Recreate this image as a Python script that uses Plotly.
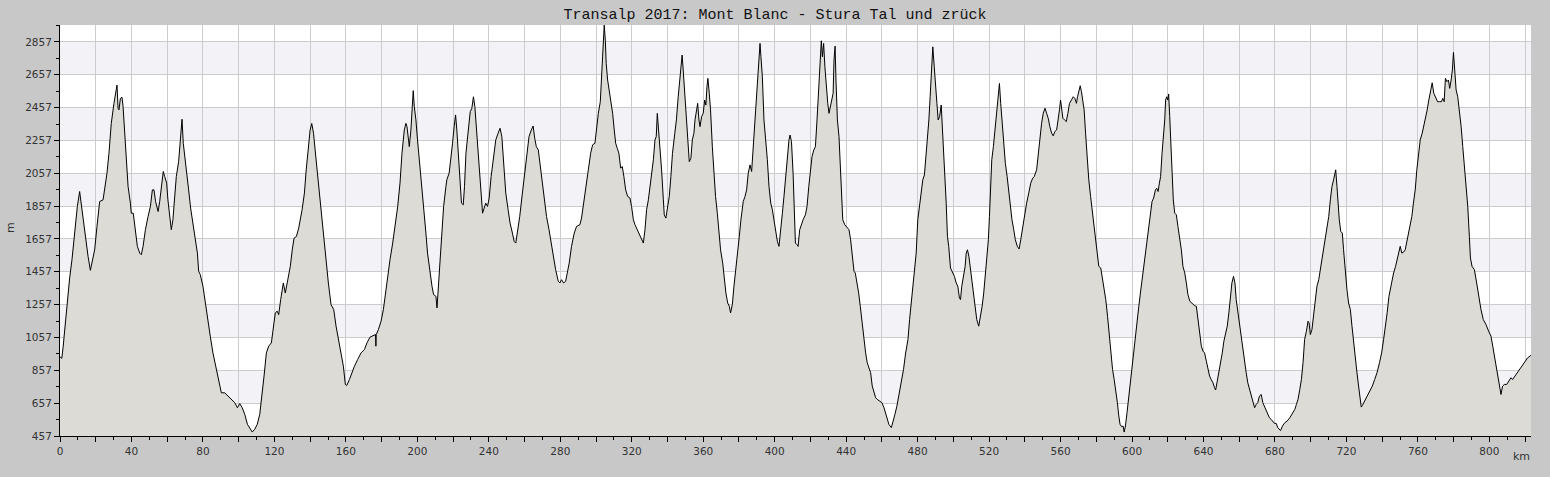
import plotly.graph_objects as go

title_text = "Transalp 2017: Mont Blanc - Stura Tal und zrück"

dist_km = [
0,1,1.7,2.6,3.9,5.4,6.7,8.2,9.7,11,11.9,13.2,14.7,15.7,17,17.9,19.4,20.7,22.2,24.1,25,26.3,27.4,28.7,30.2,31.2,31.9,32.5,33,33.8,34.7,35.3,36.2,37.1,38.1,39.4,39.9,41,42.2,43.3,44.6,45.5,46.5,47.8,49.3,50.6,51.7,52.6,53.5,54.9,55.8,57.1,57.8,58.6,59.7,60.4,61.4,62.3,63.2,64.2,65.1,66.4,67.5,68.3,69,70.1,71.1,72,73.1,74.4,75.7,76.9,77.6,78.5,80,81.3,82.8,84.1,85.6,87.5,88.8,90.3,92.2,94,95.9,97.8,99.3,100.6,102,103.4,104.9,106.2,107.6,109,110.4,111.8,113.1,114.2,115.5,116.8,118.3,119.2,120.5,121.6,122.4,123.5,125,126.1,127.6,128.9,130,131,132.3,133.6,
135.5,136.8,137.8,139.1,140,140.9,141.9,142.8,143.9,145.2,146.5,147.6,148.9,150.2,151.7,153.2,154.5,156,157.3,158.6,159.7,160.5,162,163.5,164.8,166.6,168.5,170.4,171.8,173.5,175.4,176.6,176.8,177,178.2,179.7,181,182.1,183.4,184.7,186.2,187.5,189,190.3,191.4,192.7,193.6,194.2,194.9,195.5,196.4,197,197.7,198.3,199.2,200.1,201.5,202.9,203.9,204.8,205.7,207,208.2,209.1,210.4,211,211.9,212.6,213.7,214.7,216,216.5,217.8,218.8,219.7,220.6,221.4,222.1,223,223.8,224.7,225.7,226.4,227.2,228.5,229.6,230.5,231.4,232.2,233.1,234.2,235.5,236.5,237.4,238.3,239.3,240.2,241.3,242.4,243.9,245.2,246.3,247.3,248.2,249.5,250.8,251.9,253.2,254.2,255.1,256,257.3,258.8,260.1,261.2,262.5,263.8,264.8,265.7,266.6,267.7,269,270.4,
272.3,273.7,274.8,276.1,277.4,278.9,279.8,280.7,281.9,283,284.1,285,286.3,287.8,289.1,291,291.9,293.2,294.4,295.7,297,298.1,299.4,300.3,301.3,302.4,303.1,303.7,304.3,304.6,305.2,305.7,306.5,307.4,308.4,309.3,310.2,311,311.9,312.8,313.8,314.7,315.6,316.6,317.7,319,319.9,320.9,321.8,323.1,324.2,325.5,326.5,327.4,328.3,329.3,330.2,331.1,332.1,333,333.7,334.3,334.9,335.8,336.7,337.7,338.2,339.1,340.1,341,341.9,342.8,344.1,345,346,346.9,347.8,348.2,348.8,349.7,350.6,351.6,352.2,353.1,353.9,354.8,355.4,356.3,356.9,357.6,358.2,359.1,360,360.8,361.5,362.1,362.6,363.4,364.1,365.1,366,366.9,367.9,368.8,369.7,370.9,371.8,372.7,373.7,374.6,375.3,376.3,377.2,378.1,379.1,380.2,381.1,382.4,383.4,384.3,385.2,386.2,387.1,388,389,389.9,390.8,391.8,392.3,393.1,394,394.9,395.9,396.8,397.8,398.7,399.6,400.5,401.5,402.4,403.3,404.3,405.2,406.1,407.1,408,408.6,
409.4,410.3,410.9,411.6,412.5,413.1,414,414.9,415.9,417.2,418.1,419.1,420,420.9,421.9,422.8,423.7,424.7,425.6,426.1,426.7,427.4,428.1,428.9,429.7,430.4,431.2,431.9,432.7,433.2,433.8,434.3,435.1,436,436.8,437.6,438.1,439.2,440.5,441.6,442.5,443.5,444.4,445.1,446.1,447,447.9,448.9,449.8,450.9,451.8,452.8,453.7,454.6,455.6,456.5,457.4,458.7,460,461.2,462.1,463,463.9,465.3,466.2,467.3,468.4,469.5,470.8,472.1,473.3,474.6,475.5,476.4,477.4,478.3,479.2,480.1,481.1,482,482.9,483.8,484.8,485.4,486.3,487,487.8,488.5,489.3,490,490.8,491.5,492.3,493.2,493.7,494.5,495.2,496,496.7,497.4,498.4,499.7,500.6,501.6,502.5,503.4,504,504.7,505.7,506.6,507.2,507.9,508.7,509.4,510.3,511.3,512.2,513.1,514.2,515.2,516.1,517,518,518.9,519.6,520.2,520.7,521.5,522.4,523.4,524.3,525,525.8,526.5,527.3,528.2,529.1,530.1,531,531.9,532.8,533.8,534.7,535.8,536.8,537.7,538.8,539.9,541,542.2,543.3,544.4,545.3,
546.6,547.5,548.5,549.4,550.3,551.3,552.2,553.1,554,555,555.9,556.8,557.8,558.7,559.4,560,560.6,561.3,562.2,563.2,564.1,565,566.1,567.1,568,568.9,569.5,570.4,571,571.7,572.3,573.2,574,574.9,575.8,576.8,577.7,578.6,579.6,580.5,581.4,582.5,583.5,584.4,585.3,586.3,587.2,588.1,589.1,590,590.9,591.8,592.6,593.3,594.1,595,595.6,596.3,597.2,598.2,599.1,600,601,601.9,602.8,603.8,604.7,605.6,606.6,607.5,608.4,609.3,610.3,611.2,612.1,613.1,613.8,614.6,615.3,616,616.8,617.5,618.3,618.8,619.4,620,620.5,621.1,621.6,622.4,623.1,623.9,624.8,625.7,626.7,627.6,628.5,629.5,630.4,631.3,632.4,633.6,635,636,636.9,637.8,638.8,639.7,640.6,641.6,642.5,643.4,644.3,645.3,646.2,646.8,647.7,648.6,649.6,650.5,651.4,652.4,653.3,654.2,655.1,655.9,656.8,657.6,658.3,659.3,660.2,661.1,662,663,663.9,664.8,665.8,666.7,667.6,668.6,669.5,670.4,671.3,672.3,673.2,674.1,675.1,676,676.9,677.9,678.8,679.7,680.7,681.6,683.1,
684.2,685.5,686.8,688.3,689.6,691.1,692,692.9,693.9,694.8,695.7,696.6,697.6,698.5,699.1,699.8,700.7,701.7,702.6,703.5,704.5,705.4,706.3,707.3,708.2,709.1,710.1,711,711.9,712.8,713.6,714,714.7,715.3,716,716.8,717.7,718.4,719.4,720.3,721.2,722.2,723.1,724,725,725.9,726.8,727.6,728.3,729.2,730.2,731.5,733,734.5,735.8,737.1,738.5,739.7,740.8,741.9,742.8,743.8,745.1,746.4,747.5,748.4,749.3,750.1,751,752,752.9,753.8,754.7,755.7,756.6,757.5,758.5,759.4,760.3,761.3,762.4,763.3,764.2,765.2,766.1,767,768,768.9,769.8,771,772.1,773.2,773.9,774.7,775.4,776.2,777.1,777.8,778.6,779.3,779.9,780.6,781.4,782.3,783.2,784.2,785.1,786,787,787.9,788.8,789.4,790.3,791.6,792.9,794,795.3,796.6,798.1,799.6,800.9,801.9,802.8,803.7,804.7,805.6,806.5,807.4,808.4,809.7,810.8,812.1,813,814.3,815.8,817.1,818.6,820.1,821.4,822.7,823.3,
]

elev_m = [
940,930,994,1105,1247,1419,1531,1693,1855,1946,1865,1774,1612,1551,1466,1510,1591,1733,1885,1895,1956,2058,2179,2361,2483,2564,2594,2453,2443,2513,2520,2463,2280,2118,1977,1875,1814,1814,1713,1612,1571,1561,1612,1713,1794,1855,1956,1956,1885,1824,1885,2017,2068,2037,1997,1895,1774,1713,1774,1895,2037,2128,2290,2386,2240,2139,2068,1956,1845,1744,1642,1571,1460,1440,1369,1267,1166,1065,963,862,801,720,720,700,680,660,629,654,629,589,528,508,481,498,528,589,700,822,963,1004,1024,1105,1207,1217,1196,1287,1389,1328,1409,1490,1591,1662,1672,1723,
1835,1936,2078,2240,2321,2360,2301,2199,2078,1956,1814,1672,1510,1389,1257,1227,1126,1045,974,882,771,765,801,852,882,923,963,984,1024,1059,1069,1075,1004,1075,1105,1156,1227,1328,1450,1531,1632,1733,1855,1997,2179,2321,2361,2341,2250,2219,2321,2422,2560,2463,2382,2260,2098,1936,1835,1693,1571,1450,1369,1318,1308,1237,1389,1531,1693,1855,1977,2017,2058,2139,2240,2341,2412,2321,2179,2058,1875,1865,1977,2179,2321,2432,2453,2523,2463,2321,2139,1936,1814,1845,1875,1855,1906,2037,2139,2260,2301,2331,2280,2139,1936,1835,1754,1693,1642,1632,1693,1794,1936,2058,2179,2280,2321,2345,2270,2219,2199,2078,1956,
1794,1713,1632,1561,1470,1399,1389,1409,1389,1399,1450,1510,1612,1693,1733,1744,1784,1875,1977,2078,2179,2230,2240,2341,2422,2493,2625,2767,2929,2959,2868,2726,2625,2564,2503,2422,2321,2240,2209,2179,2088,2098,2037,1956,1916,1906,1855,1774,1744,1713,1683,1662,1632,1713,1835,1895,1977,2058,2139,2260,2280,2422,2341,2219,2078,1895,1804,1784,1855,1916,2037,2179,2301,2382,2523,2625,2746,2777,2686,2544,2382,2240,2128,2148,2260,2301,2382,2443,2483,2382,2341,2402,2422,2503,2473,2584,2635,2544,2443,2219,2037,1916,1814,1693,1591,1510,1409,1328,1267,1247,1207,1257,1369,1450,1571,1672,1774,1885,1916,1956,2058,2108,2068,2219,2402,2564,2706,2848,2767,2645,2382,2280,2139,1977,1875,1835,1774,1693,1642,1612,1693,1814,1916,2037,2139,2260,2290,
2250,2058,1855,1632,1622,1612,1713,1744,1774,1804,1855,1977,2078,2159,2199,2219,2382,2584,2746,2864,2767,2848,2706,2584,2483,2422,2463,2483,2544,2746,2831,2625,2382,2280,2078,1936,1774,1744,1723,1713,1652,1531,1460,1450,1389,1328,1247,1146,1045,963,903,862,842,761,720,690,680,670,660,629,599,558,528,508,538,589,639,700,781,862,963,1045,1166,1267,1389,1490,1571,1774,1875,1936,2017,2047,2179,2219,2382,2523,2686,2827,2706,2564,2483,2382,2402,2473,2362,2260,2058,1875,1672,1612,1480,1450,1429,1389,1369,1298,1288,1369,1429,1490,1571,1591,1551,1490,1389,1308,1227,1166,1126,1186,1247,1328,1450,1571,1652,1794,1977,2139,2219,2321,2422,2503,2604,2483,2362,2219,2118,2037,1936,1855,1774,1713,1652,1612,1596,1652,1733,1794,1875,1936,1997,2027,2037,
2078,2179,2260,2362,2422,2453,2422,2392,2341,2301,2285,2311,2321,2382,2443,2503,2443,2392,2382,2372,2422,2483,2503,2523,2513,2483,2523,2564,2590,2554,2503,2443,2301,2118,2017,1916,1835,1733,1652,1571,1490,1480,1409,1369,1288,1186,1065,963,862,801,741,660,579,528,514,518,481,518,599,700,801,903,984,1065,1146,1247,1328,1409,1490,1571,1652,1733,1794,1885,1906,1956,1966,1946,1997,2037,2179,2260,2382,2503,2523,2503,2540,2402,2260,2078,1895,1814,1804,1733,1672,1591,1490,1450,1389,1318,1277,1263,1251,1247,1166,1065,1004,974,963,913,862,822,801,781,751,737,791,842,903,963,1034,1085,1126,1207,1308,1389,1429,1389,1288,1207,1126,1045,1004,923,842,781,741,700,670,629,649,660,700,710,660,639,619,599,568,558,548,534,534,508,490,
518,538,548,568,589,619,649,680,741,801,903,1045,1095,1156,1146,1075,1105,1207,1308,1369,1409,1470,1531,1591,1652,1713,1794,1895,1977,2017,2058,2078,1977,1875,1774,1703,1693,1591,1450,1348,1267,1227,1126,1024,923,842,761,680,633,649,670,690,720,761,801,842,903,963,1045,1126,1207,1308,1389,1450,1490,1531,1591,1612,1571,1577,1591,1642,1672,1733,1794,1875,1956,2078,2179,2260,2301,2341,2382,2443,2503,2544,2608,2544,2523,2493,2493,2493,2513,2493,2635,2615,2625,2574,2625,2686,2793,2665,2564,2523,2443,2341,2219,2098,2017,1855,1672,1541,1490,1470,1389,1308,1227,1166,1136,1095,1065,1004,943,903,822,761,710,761,771,771,791,812,801,822,842,862,893,913,933,943,950,
]

y_ticks = [457, 657, 857, 1057, 1257, 1457, 1657, 1857, 2057, 2257, 2457, 2657, 2857]
x_grid = list(range(0, 821, 20))
x_labels = [str(v) if v % 40 == 0 else "" for v in x_grid]

fig = go.Figure()
fig.add_trace(go.Scatter(
    x=dist_km, y=elev_m, mode="lines",
    line=dict(color="black", width=1),
    fill="tozeroy", fillcolor="#dcdbd6",
    hoverinfo="skip", showlegend=False,
))

# alternating horizontal bands
for i in range(1, len(y_ticks) - 1, 2):
    fig.add_shape(type="rect", xref="paper", yref="y", x0=0, x1=1,
                  y0=y_ticks[i], y1=y_ticks[i + 1],
                  fillcolor="#f3f2f6", line=dict(width=0), layer="below")

tick_font = dict(family="DejaVu Sans", size=10.5, color="#333333")

fig.update_layout(
    width=1550, height=477,
    paper_bgcolor="#c8c8c8", plot_bgcolor="white",
    margin=dict(l=60, r=19, t=25, b=41, pad=0),
    title=dict(text=title_text, x=0.5, xref="container", xanchor="center",
               y=1 - 14 / 477, yref="container", yanchor="middle",
               font=dict(family="Liberation Mono", size=15, color="#111111")),
    xaxis=dict(range=[0, 823.3], tickmode="array", tickvals=x_grid, ticktext=x_labels,
               ticks="outside", ticklen=5, tickcolor="black", tickwidth=1,
               showline=True, linecolor="black", linewidth=1,
               showgrid=True, gridcolor="#cccccc", gridwidth=1,
               zeroline=False, tickfont=tick_font,
               minor=dict(dtick=10, tick0=0, ticks="outside", ticklen=3,
                          tickcolor="black", showgrid=False)),
    yaxis=dict(range=[457, 2960], tickmode="array", tickvals=y_ticks,
               ticks="outside", ticklen=5, tickcolor="black", tickwidth=1,
               showline=True, linecolor="black", linewidth=1,
               showgrid=True, gridcolor="#cccccc", gridwidth=1,
               zeroline=False, tickfont=tick_font,
               minor=dict(dtick=100, tick0=457, ticks="outside", ticklen=3,
                          tickcolor="black", showgrid=False)),
    annotations=[
        dict(text="m", xref="paper", yref="paper", x=(11 - 60) / 1471, y=(436 - 228) / 411,
             xanchor="center", yanchor="middle",
             showarrow=False, textangle=-90, font=dict(family="DejaVu Sans", size=11, color="#333333")),
        dict(text="km", xref="paper", yref="paper", x=(1521 - 60) / 1471, y=(436 - 456) / 411,
             xanchor="center", yanchor="middle",
             showarrow=False, font=dict(family="DejaVu Sans", size=11, color="#333333")),
    ],
)

fig.write_html(
    "out.html",
    config={"displayModeBar": False},
    post_script="document.body.style.margin='0';document.body.style.padding='0';"
                "document.body.style.overflow='hidden';document.body.style.background='#c8c8c8';",
)
